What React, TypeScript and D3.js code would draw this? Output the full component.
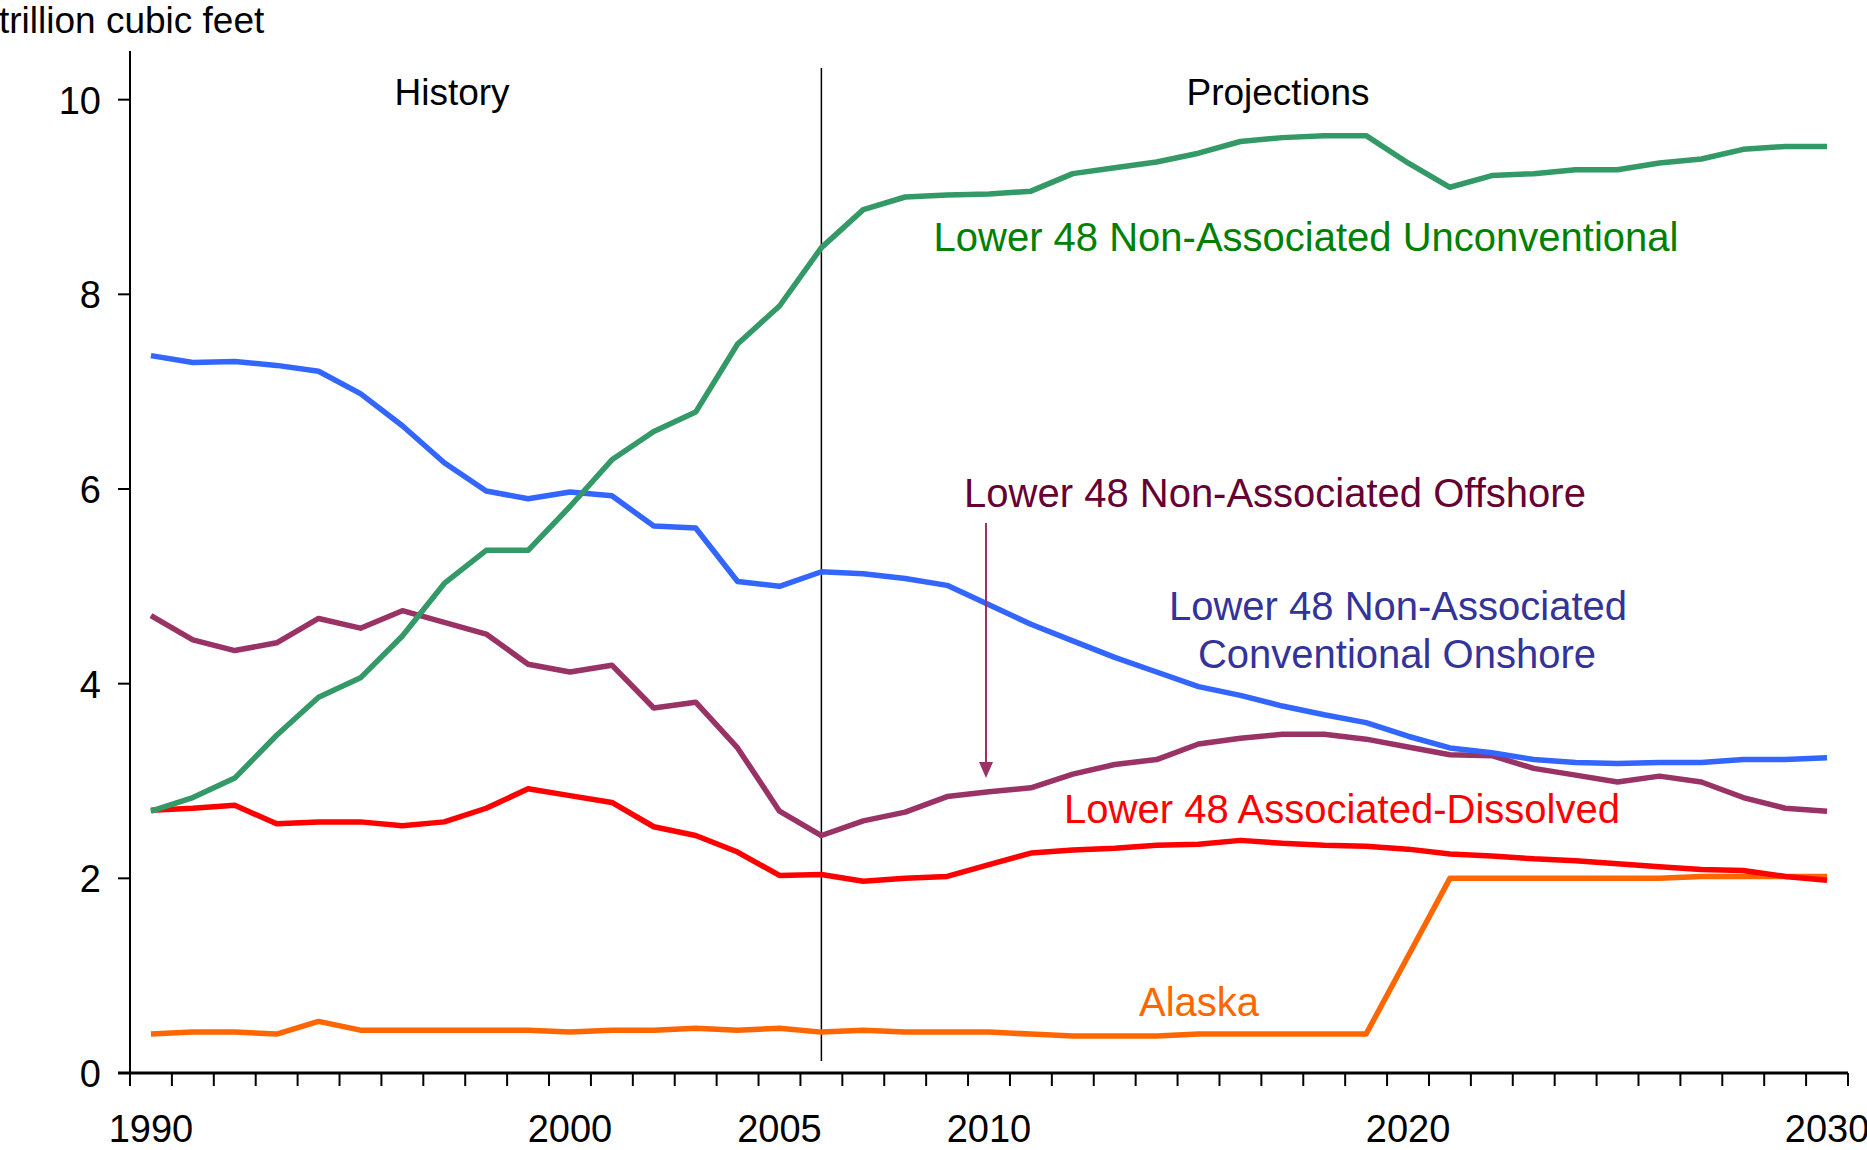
import React from "react";
import * as d3 from "d3";

// years on the category axis
const years = d3.range(1990, 2031);

const unconventional = [
  2.69, 2.83, 3.03, 3.47, 3.86, 4.06, 4.49, 5.03, 5.37, 5.37,
  5.82, 6.3, 6.59, 6.79, 7.49, 7.88, 8.48, 8.87, 9.0, 9.02,
  9.03, 9.06, 9.24, 9.3, 9.36, 9.45, 9.57, 9.61, 9.63, 9.63,
  9.35, 9.1, 9.22, 9.24, 9.28, 9.28, 9.35, 9.39, 9.49, 9.52, 9.52,
];

const conventionalOnshore = [
  7.37, 7.3, 7.31, 7.27, 7.21, 6.98, 6.65, 6.27, 5.98, 5.9,
  5.97, 5.93, 5.62, 5.6, 5.05, 5.0, 5.15, 5.13, 5.08, 5.01,
  4.81, 4.61, 4.44, 4.27, 4.12, 3.97, 3.88, 3.77, 3.68, 3.6,
  3.46, 3.34, 3.29, 3.22, 3.19, 3.18, 3.19, 3.19, 3.22, 3.22, 3.24,
];

const offshore = [
  4.7, 4.45, 4.34, 4.42, 4.67, 4.57, 4.75, 4.63, 4.51, 4.2,
  4.12, 4.19, 3.75, 3.81, 3.34, 2.69, 2.44, 2.59, 2.68, 2.84,
  2.89, 2.93, 3.07, 3.17, 3.22, 3.38, 3.44, 3.48, 3.48, 3.43,
  3.35, 3.27, 3.26, 3.13, 3.06, 2.99, 3.05, 2.99, 2.83, 2.72, 2.69,
];

const associatedDissolved = [
  2.7, 2.72, 2.75, 2.56, 2.58, 2.58, 2.54, 2.58, 2.72, 2.92,
  2.85, 2.78, 2.53, 2.44, 2.27, 2.03, 2.04, 1.97, 2.0, 2.02,
  2.14, 2.26, 2.29, 2.31, 2.34, 2.35, 2.39, 2.36, 2.34, 2.33,
  2.3, 2.25, 2.23, 2.2, 2.18, 2.15, 2.12, 2.09, 2.08, 2.02, 1.98,
];

const alaska = [
  0.4, 0.42, 0.42, 0.4, 0.53, 0.44, 0.44, 0.44, 0.44, 0.44,
  0.42, 0.44, 0.44, 0.46, 0.44, 0.46, 0.42, 0.44, 0.42, 0.42,
  0.42, 0.4, 0.38, 0.38, 0.38, 0.4, 0.4, 0.4, 0.4, 0.4,
  1.2, 2.0, 2.0, 2.0, 2.0, 2.0, 2.0, 2.02, 2.02, 2.02, 2.02,
];

const yTicks = [0, 2, 4, 6, 8, 10];
const xLabelYears = [1990, 2000, 2005, 2010, 2020, 2030];

const series = [
  { name: "Alaska", values: alaska, color: "#FF6600" },
  { name: "Associated-Dissolved", values: associatedDissolved, color: "#FF0000" },
  { name: "Offshore", values: offshore, color: "#993366" },
  { name: "Conventional Onshore", values: conventionalOnshore, color: "#3366FF" },
  { name: "Unconventional", values: unconventional, color: "#339966" },
];

const FONT = "'Liberation Sans', Arial, Helvetica, sans-serif";

export default function App() {
  const width = 1867;
  const height = 1150;
  const left = 130;
  const right = 1848;
  const top = 51;
  const bottom = 1073;

  const x = d3.scaleBand<number>().domain(years).range([left, right]).padding(0);
  const xc = (yr: number) => (x(yr) as number) + x.bandwidth() / 2;
  const y = d3.scaleLinear().domain([0, 10.5]).range([bottom, top]);

  const line = d3
    .line<number>()
    .x((_, i) => xc(years[i]))
    .y((d) => y(d));

  // tick marks sit on category boundaries
  const boundaries = years.map((yr) => x(yr) as number).concat([right]);

  const arrowX = xc(2010) - 3;

  return (
    <svg
      width={width}
      height={height}
      style={{ position: "absolute", left: 0, top: 0, background: "#fff" }}
      fontFamily={FONT}
    >
      <text x={-1} y={33} fontSize={37} fill="#000">
        trillion cubic feet
      </text>

      {/* y axis */}
      <line x1={left} x2={left} y1={top} y2={bottom} stroke="#000" strokeWidth={2} />
      {yTicks.map((t) => (
        <g key={t}>
          <line x1={left - 12} x2={left} y1={y(t)} y2={y(t)} stroke="#000" strokeWidth={2} />
          <text x={101} y={y(t) + 14} fontSize={38} textAnchor="end" fill="#000">
            {t}
          </text>
        </g>
      ))}

      {/* x axis */}
      <line x1={left - 12} x2={right} y1={bottom} y2={bottom} stroke="#000" strokeWidth={3} />
      {boundaries.map((bx, i) => (
        <line key={i} x1={bx} x2={bx} y1={bottom} y2={bottom + 13} stroke="#000" strokeWidth={2} />
      ))}
      {xLabelYears.map((yr) => (
        <text key={yr} x={xc(yr)} y={1142} fontSize={38} textAnchor="middle" fill="#000">
          {yr}
        </text>
      ))}

      {/* history / projections divider */}
      <line x1={xc(2006)} x2={xc(2006)} y1={68} y2={1061} stroke="#000" strokeWidth={1.5} />
      <text x={452} y={105} fontSize={37} textAnchor="middle" fill="#000">
        History
      </text>
      <text x={1278} y={105} fontSize={37} textAnchor="middle" fill="#000">
        Projections
      </text>

      {series.map((s) => (
        <path
          key={s.name}
          d={line(s.values) ?? ""}
          fill="none"
          stroke={s.color}
          strokeWidth={5.5}
          strokeLinejoin="round"
        />
      ))}

      {/* labels */}
      <text x={1306} y={251} fontSize={40} textAnchor="middle" fill="#008000">
        Lower 48 Non-Associated Unconventional
      </text>
      <text x={1275} y={507} fontSize={40} textAnchor="middle" fill="#660033">
        Lower 48 Non-Associated Offshore
      </text>
      <line x1={arrowX} x2={arrowX} y1={523} y2={764} stroke="#993366" strokeWidth={2} />
      <path
        d={`M${arrowX - 7},${762} L${arrowX + 7},${762} L${arrowX},${778} Z`}
        fill="#993366"
      />
      <text x={1398} y={620} fontSize={40} textAnchor="middle" fill="#333399">
        Lower 48 Non-Associated
      </text>
      <text x={1397} y={668} fontSize={40} textAnchor="middle" fill="#333399">
        Conventional Onshore
      </text>
      <text x={1342} y={823} fontSize={40} textAnchor="middle" fill="#FF0000">
        Lower 48 Associated-Dissolved
      </text>
      <text x={1199} y={1016} fontSize={40} textAnchor="middle" fill="#FF6600">
        Alaska
      </text>
    </svg>
  );
}
